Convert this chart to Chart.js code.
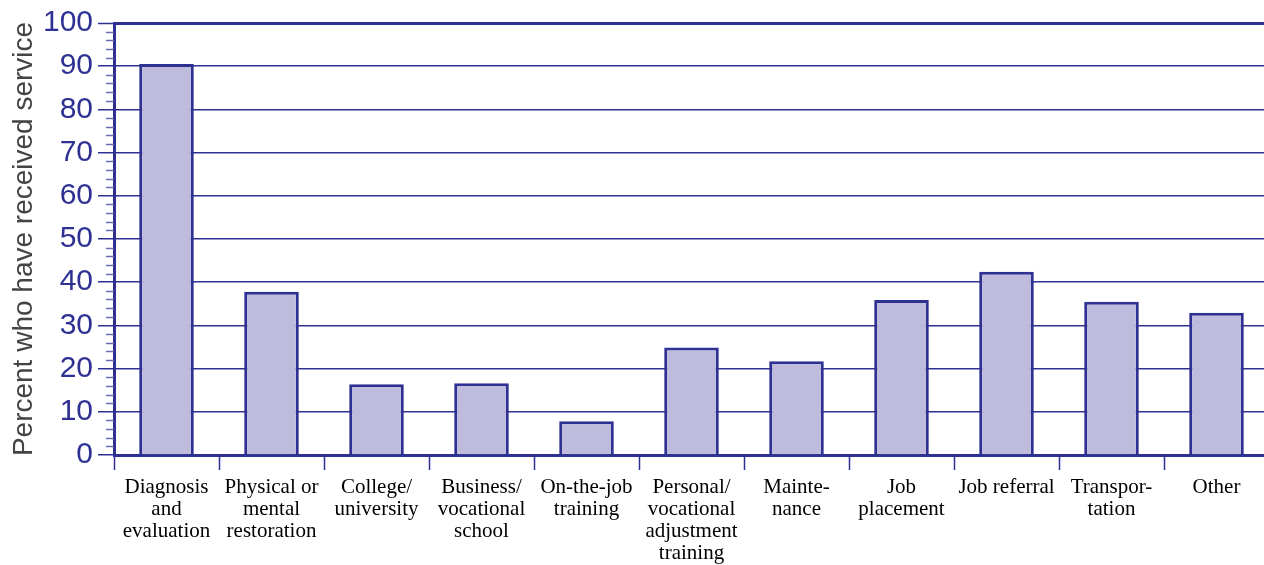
<!DOCTYPE html>
<html>
<head>
<meta charset="utf-8">
<script src="https://cdn.jsdelivr.net/npm/chart.js@4/dist/chart.umd.min.js"></script>
<style>
  html, body { margin: 0; padding: 0; background: #fff; overflow: hidden; }
  #wrap { position: relative; width: 1269px; height: 565px; }
</style>
</head>
<body>
<div id="wrap"><canvas id="c"></canvas></div>
<script>
const categories = [
  ["Diagnosis", "and", "evaluation"],
  ["Physical or", "mental", "restoration"],
  ["College/", "university"],
  ["Business/", "vocational", "school"],
  ["On-the-job", "training"],
  ["Personal/", "vocational", "adjustment", "training"],
  ["Mainte-", "nance"],
  ["Job", "placement"],
  ["Job referral"],
  ["Transpor-", "tation"],
  ["Other"]
];
const percentReceived = [90.5, 37.8, 16.4, 16.6, 7.8, 24.9, 21.7, 35.9, 42.4, 35.5, 32.9];
const yTitle = "Percent who have received service";
const yMin = 0, yMax = 100, yMajorStep = 10, yMinorStep = 2;

const NAVY = "#2e3192";

const minorTicks = {
  id: "minorTicks",
  afterDraw(chart) {
    const y = chart.scales.y;
    const ctx = chart.ctx;
    const x0 = chart.chartArea.left;
    ctx.save();
    ctx.strokeStyle = "#6a6cb2";
    ctx.lineWidth = 1.5;
    for (let v = yMin + yMinorStep; v < yMax; v += yMinorStep) {
      if (v % yMajorStep === 0) continue;
      const py = Math.round(y.getPixelForValue(v)) + 0.5;
      ctx.beginPath();
      ctx.moveTo(x0 - 8, py);
      ctx.lineTo(x0, py);
      ctx.stroke();
    }
    ctx.restore();
  }
};

new Chart(document.getElementById("c"), {
  type: "bar",
  data: {
    labels: categories,
    datasets: [{
      data: percentReceived,
      backgroundColor: "#bebbdc",
      borderColor: NAVY,
      borderWidth: 3,
      barPercentage: 0.52,
      categoryPercentage: 1.0
    }]
  },
  options: {
    responsive: true,
    maintainAspectRatio: false,
    animation: false,
    layout: { padding: { top: 21, right: 0, bottom: 0, left: 0 } },
    plugins: { legend: { display: false }, tooltip: { enabled: false } },
    scales: {
      x: {
        afterFit(scale) { scale.height = 110; },
        grid: {
          offset: true,
          drawOnChartArea: false,
          drawTicks: true,
          tickLength: 15,
          tickColor: NAVY,
          tickWidth: 1.5
        },
        border: { color: NAVY, width: 3 },
        ticks: {
          autoSkip: false,
          maxRotation: 0,
          minRotation: 0,
          padding: 7,
          color: "#000",
          font: { family: "'Liberation Serif', 'Times New Roman', serif", size: 21, lineHeight: 1.04 }
        }
      },
      y: {
        min: yMin,
        max: yMax,
        afterFit(scale) { scale.width = 114; },
        grid: {
          color: NAVY,
          lineWidth: (c) => (c.tick && c.tick.value === yMax ? 3 : 1.5),
          tickLength: 16,
          tickColor: NAVY,
          tickWidth: 1.5
        },
        border: { color: NAVY, width: 3 },
        ticks: {
          stepSize: yMajorStep,
          padding: 5,
          color: NAVY,
          font: { family: "'Liberation Sans', Arial, sans-serif", size: 30 }
        },
        title: {
          display: true,
          text: yTitle,
          color: "#444",
          padding: { top: 7, bottom: 0 },
          font: { family: "'Liberation Sans', Arial, sans-serif", size: 28 }
        }
      }
    }
  },
  plugins: [minorTicks]
});
</script>
</body>
</html>
